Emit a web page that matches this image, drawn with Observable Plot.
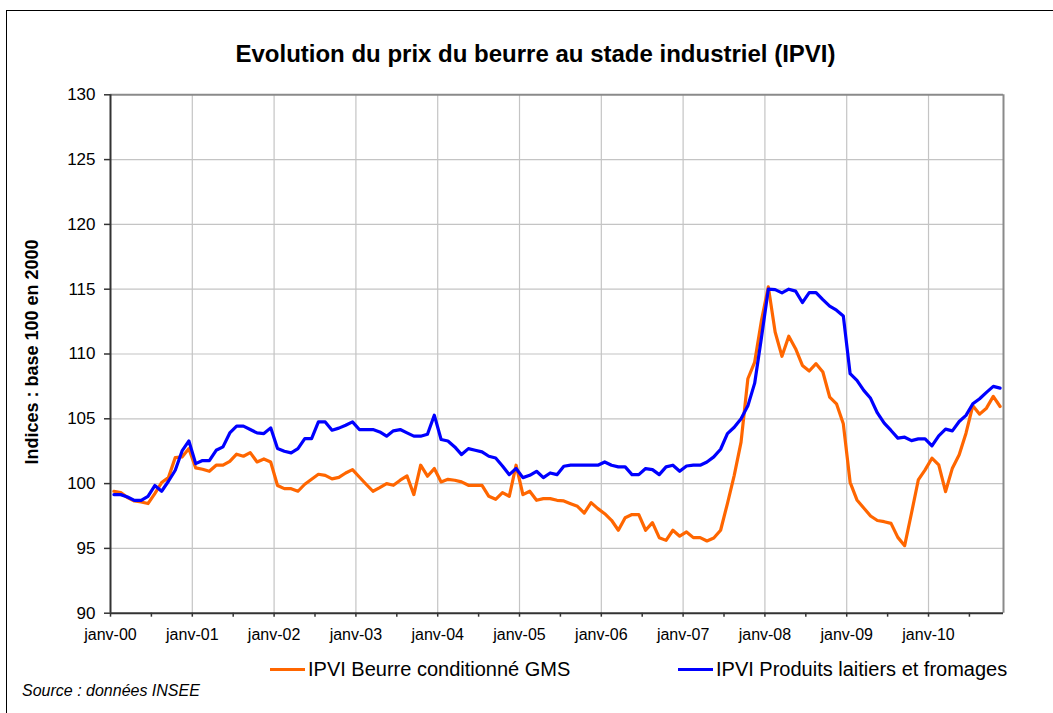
<!DOCTYPE html>
<html>
<head>
<meta charset="utf-8">
<script src="https://cdn.jsdelivr.net/npm/d3@7"></script>
<script src="https://cdn.jsdelivr.net/npm/@observablehq/plot@0.6"></script>
<style>
  body { margin: 0; background: #fff; font-family: "Liberation Sans", Arial, sans-serif; }
  #wrap { position: relative; width: 1053px; height: 713px; overflow: hidden; background: #fff; }
  #frame { position: absolute; left: 6px; top: 10px; width: 1200px; height: 900px; border: 1.5px solid #000; box-sizing: border-box; }
  #title { position: absolute; left: 0; width: 1071px; top: 40px; text-align: center; font-weight: bold; font-size: 24px; color: #000; }
  #ytitle { position: absolute; left: 32px; top: 352px; transform: translate(-50%, -50%) rotate(-90deg); white-space: nowrap; font-weight: bold; font-size: 18px; color: #000; }
  #chart { position: absolute; left: 0; top: 80px; }
  .leg { position: absolute; top: 658px; font-size: 20px; color: #000; white-space: nowrap; display: flex; align-items: center; }
  .sw { display: inline-block; width: 35px; height: 3px; margin-right: 3px; }
  #source { position: absolute; left: 22px; top: 682px; font-style: italic; font-size: 16px; color: #000; }
</style>
</head>
<body>
<div id="wrap">
  <div id="frame"></div>
  <div id="title">Evolution du prix du beurre au stade industriel (IPVI)</div>
  <div id="ytitle">Indices : base 100 en 2000</div>
  <div id="chart"></div>
  <div class="leg" style="left:270px"><span class="sw" style="background:#ff6600"></span>IPVI Beurre conditionné GMS</div>
  <div class="leg" style="left:678px"><span class="sw" style="background:#0000ff"></span>IPVI Produits laitiers et fromages</div>
  <div id="source">Source : données INSEE</div>
</div>
<script>
// Monthly series, January 2000 to November 2010
const seriesNames = ["IPVI Beurre conditionné GMS", "IPVI Produits laitiers et fromages"];
const beurre = [
  99.41, 99.31, 98.92, 98.66, 98.58, 98.46, 99.23, 100.08, 100.46, 102.01, 102.06, 102.70,
  101.21, 101.11, 100.95, 101.42, 101.42, 101.72, 102.27, 102.11, 102.39, 101.67, 101.90, 101.67,
  99.85, 99.61, 99.61, 99.41, 99.95, 100.33, 100.72, 100.64, 100.36, 100.48, 100.82, 101.08,
  100.51, 99.95, 99.41, 99.69, 100.00, 99.87, 100.26, 100.59, 99.15, 101.42, 100.57, 101.16,
  100.13, 100.33, 100.26, 100.13, 99.87, 99.87, 99.87, 99.02, 98.79, 99.31, 99.02, 101.42,
  99.15, 99.41, 98.71, 98.84, 98.84, 98.71, 98.66, 98.45, 98.25, 97.73, 98.53, 98.07,
  97.68, 97.17, 96.40, 97.37, 97.61, 97.61, 96.40, 96.99, 95.83, 95.62, 96.40, 95.94,
  96.27, 95.83, 95.83, 95.57, 95.80, 96.40, 98.46, 100.64, 103.20, 108.09, 109.38, 112.60,
  115.18, 111.70, 109.82, 111.37, 110.41, 109.12, 108.69, 109.25, 108.61, 106.68, 106.16, 104.61,
  100.10, 98.74, 98.12, 97.50, 97.15, 97.06, 96.93, 95.85, 95.21, 97.71, 100.28, 101.06,
  101.96, 101.44, 99.38, 101.19, 102.22, 103.89, 106.01, 105.36, 105.82, 106.73, 105.95
];
const laitiers = [
  99.15, 99.15, 98.97, 98.71, 98.71, 99.02, 99.85, 99.41, 100.18, 101.03, 102.52, 103.29,
  101.54, 101.78, 101.78, 102.57, 102.83, 103.91, 104.43, 104.43, 104.17, 103.91, 103.86, 104.30,
  102.70, 102.50, 102.37, 102.70, 103.47, 103.47, 104.76, 104.76, 104.12, 104.28, 104.50, 104.76,
  104.17, 104.17, 104.17, 103.99, 103.66, 104.07, 104.17, 103.91, 103.66, 103.66, 103.81, 105.28,
  103.40, 103.29, 102.83, 102.24, 102.70, 102.57, 102.45, 102.11, 101.98, 101.36, 100.69, 101.16,
  100.46, 100.64, 100.95, 100.46, 100.82, 100.69, 101.34, 101.42, 101.42, 101.42, 101.42, 101.42,
  101.67, 101.42, 101.29, 101.29, 100.69, 100.69, 101.16, 101.08, 100.69, 101.29, 101.42, 100.95,
  101.36, 101.42, 101.42, 101.67, 102.06, 102.65, 103.86, 104.35, 105.00, 106.00, 107.75, 111.30,
  115.00, 114.97, 114.72, 115.00, 114.85, 113.97, 114.74, 114.74, 114.20, 113.69, 113.38, 112.94,
  108.48, 107.96, 107.19, 106.58, 105.45, 104.66, 104.10, 103.51, 103.58, 103.32, 103.45, 103.45,
  102.91, 103.69, 104.20, 104.07, 104.79, 105.26, 106.16, 106.55, 107.04, 107.50, 107.37
];
const yearLabels = ["janv-00","janv-01","janv-02","janv-03","janv-04","janv-05","janv-06","janv-07","janv-08","janv-09","janv-10"];
const yTicks = [90, 95, 100, 105, 110, 115, 120, 125, 130];

// month index (0 = janv-00); each point sits at the middle of its month
const rows = [];
beurre.forEach((v, i) => rows.push({m: i + 0.5, v, s: seriesNames[0]}));
laitiers.forEach((v, i) => rows.push({m: i + 0.5, v, s: seriesNames[1]}));
const nMonths = beurre.length;
const yearTicks = yearLabels.map((_, k) => k * 12);
const halfTicks = d3.range(0, nMonths + 1, 6);

const chart = Plot.plot({
  width: 1053,
  height: 580,
  marginLeft: 110,
  marginRight: 50,
  marginTop: 14.3,
  marginBottom: 47.3,
  style: {fontFamily: "'Liberation Sans', Arial, sans-serif", fontSize: "17px", color: "#000", background: "transparent"},
  x: {type: "linear", domain: [0, nMonths]},
  y: {domain: [90, 130]},
  color: {domain: seriesNames, range: ["#ff6600", "#0000ff"]},
  marks: [
    Plot.ruleY(yTicks.filter(d => d > 90 && d < 130), {stroke: "#c4c4c4", strokeWidth: 1.2}),
    Plot.ruleX(yearTicks.filter(d => d > 0), {stroke: "#c4c4c4", strokeWidth: 1.2}),
    Plot.ruleY([130], {stroke: "#8a8a8a", strokeWidth: 2}),
    Plot.ruleX([nMonths], {stroke: "#8a8a8a", strokeWidth: 2}),
    Plot.axisY({ticks: yTicks, tickSize: 6, tickPadding: 9, stroke: "#333", strokeWidth: 1.5, fill: "#000", fontSize: 17, label: null}),
    Plot.axisX({ticks: halfTicks, tickSize: 4, tickFormat: () => "", stroke: "#333", strokeWidth: 1.5, label: null}),
    Plot.axisX({ticks: yearTicks, tickSize: 0, tickPadding: 15, tickFormat: d => yearLabels[Math.round(d / 12)], fill: "#000", fontSize: 16, label: null}),
    Plot.line(rows, {x: "m", y: "v", z: "s", stroke: "s", strokeWidth: 3.2, strokeLinejoin: "round"}),
    Plot.ruleX([0], {stroke: "#333", strokeWidth: 2}),
    Plot.ruleY([90], {stroke: "#333", strokeWidth: 2})
  ]
});
document.getElementById("chart").appendChild(chart);
</script>
</body>
</html>
